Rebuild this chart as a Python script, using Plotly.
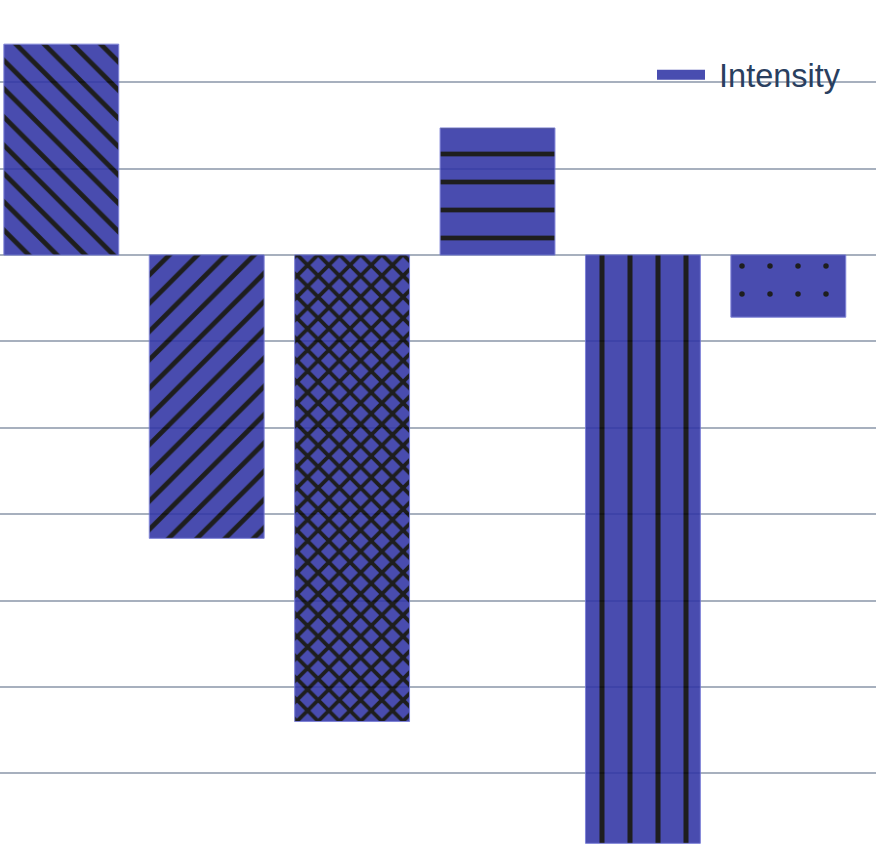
import plotly.graph_objects as go

categories = ["A", "B", "C", "D", "E", "F"]
intensity = [2.44, -3.28, -5.40, 1.47, -6.81, -0.72]
series_name = "Intensity"

pattern_shapes = ["\\", "/", "x", "-", "|", "."]
pattern_sizes = [20, 20, 15, 28, 28, 28]
pattern_solidity = [0.24, 0.24, 0.45, 0.17, 0.18, 0.03]

BAR_COLOR = "rgb(48,52,165)"

fig = go.Figure()
fig.add_trace(go.Bar(
    x=categories,
    y=intensity,
    name=series_name,
    legendgroup="intensity",
    showlegend=False,
    opacity=0.88,
    marker=dict(
        color=BAR_COLOR,
        line=dict(color="rgba(110,115,210,1)", width=1),
        pattern=dict(
            shape=pattern_shapes,
            size=pattern_sizes,
            solidity=pattern_solidity,
            fgcolor="black",
            fgopacity=1,
            fillmode="overlay",
        ),
    ),
))
# legend key for the bar series (wide swatch, as in the reference)
fig.add_trace(go.Scatter(
    x=[None],
    y=[None],
    mode="lines",
    name="\u00a0" + series_name,
    legendgroup="intensity",
    showlegend=True,
    opacity=0.88,
    line=dict(color=BAR_COLOR, width=11),
    hoverinfo="skip",
))

fig.update_layout(
    width=876,
    height=852,
    margin=dict(l=0, r=0, t=0, b=0),
    paper_bgcolor="white",
    plot_bgcolor="white",
    bargap=0.21,
    font=dict(family="Liberation Sans, Arial, sans-serif", size=32, color="#2a3f5f"),
    showlegend=True,
    legend=dict(
        x=652 / 876, xanchor="left",
        y=1 - 75 / 852, yanchor="middle",
        bgcolor="rgba(0,0,0,0)",
        itemwidth=48,
        font=dict(size=32.5),
    ),
    xaxis=dict(
        range=[-0.4216, 5.603],
        showgrid=False,
        zeroline=False,
        showticklabels=False,
        showline=False,
        ticks="",
    ),
    yaxis=dict(
        range=[-6.910, 2.951],
        dtick=1,
        tick0=0,
        showgrid=True,
        gridcolor="#A7B0BE",
        gridwidth=2,
        zeroline=True,
        zerolinecolor="#A7B0BE",
        zerolinewidth=2,
        showticklabels=False,
        showline=False,
        ticks="",
    ),
)

fig.write_html(
    "out.html",
    config={"displayModeBar": False},
    post_script="document.body.style.margin='0px';",
)
